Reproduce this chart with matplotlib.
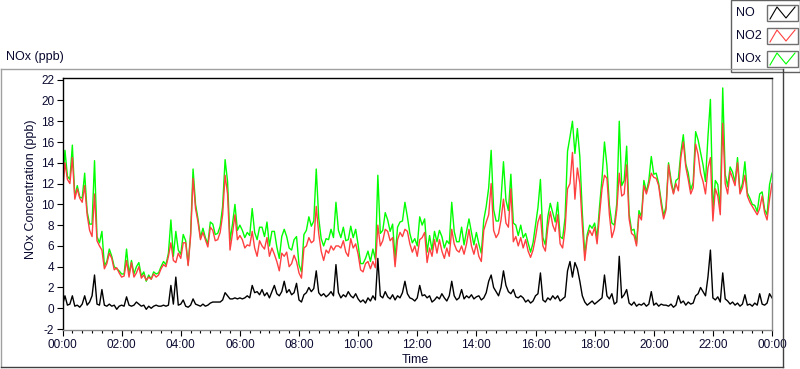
import numpy as np
import matplotlib
matplotlib.use("Agg")
import matplotlib.pyplot as plt
from matplotlib.patches import Rectangle
from matplotlib.lines import Line2D
from matplotlib.ticker import FixedLocator

plt.rcParams['font.family'] = ['Liberation Sans', 'DejaVu Sans']

# ==========================================
# DADOS (leitura do gráfico, uma amostra a cada 5 min)
# ==========================================
minutos = np.arange(0, 1441, 5)

no2 = [
    11.0, 14.0, 12.4, 12.0, 14.5, 10.5, 11.5, 10.6, 10.2, 11.8,
    9.0, 7.5, 6.9, 11.0, 6.5, 6.0, 5.6, 3.8, 4.3, 5.3,
    4.8, 3.7, 3.9, 3.4, 3.0, 3.1, 4.6, 3.0, 4.4, 3.0,
    3.4, 4.0, 2.9, 3.2, 2.7, 3.0, 2.8, 3.3, 3.0, 3.2,
    3.8, 4.2, 4.0, 5.0, 6.3, 4.6, 4.4, 5.3, 4.8, 6.3,
    6.3, 4.1, 6.9, 12.5, 9.6, 8.3, 6.6, 7.3, 6.6, 5.9,
    7.8, 7.5, 6.5, 6.6, 7.3, 9.0, 12.8, 11.0, 5.6, 7.2,
    9.0, 6.6, 7.0, 6.6, 5.8, 6.1, 6.0, 7.4, 5.8, 5.0,
    6.5, 6.0, 5.7, 6.8, 5.0, 5.8, 5.2, 4.5, 3.6, 5.3,
    5.0, 5.4, 4.0, 4.3, 5.1, 4.5, 3.4, 2.9, 5.8,
    6.0, 6.8, 6.3, 6.5, 9.8, 7.2, 5.5, 4.6, 5.6, 5.3,
    6.0, 5.6, 6.0, 6.0, 5.8, 6.5, 5.4, 5.0, 6.7, 5.8,
    6.2, 5.2, 3.7, 3.5, 4.3, 4.5, 3.8, 4.5, 3.9, 8.0,
    6.0, 6.5, 7.6, 7.4, 6.5, 6.8, 4.0, 6.6, 7.3, 6.9,
    7.6, 7.4, 6.2, 5.4, 6.0, 5.0, 6.6, 6.8, 7.3,
    4.4, 5.8, 5.0, 6.6, 5.3, 6.6, 5.5, 4.8, 5.8, 5.0,
    7.6, 6.2, 5.6, 5.4, 6.0, 5.2, 6.2, 7.6, 6.0, 5.2,
    6.2, 5.0, 4.5, 7.5, 8.3, 9.0, 12.0, 7.5, 6.8, 7.2,
    8.5, 10.5, 8.2, 7.8, 11.5, 6.4, 6.9, 6.0, 6.8, 5.8,
    6.6, 5.5, 4.9, 5.6, 6.8, 8.3, 9.0, 6.0, 5.5,
    7.8, 9.3, 8.0, 7.4, 9.0, 6.2, 5.8, 7.6, 11.5, 12.0,
    15.0, 10.5, 13.5, 12.0, 8.0, 4.6, 6.8, 7.5, 7.0, 7.8,
    6.2, 9.0, 11.5, 12.8, 12.5, 9.0, 6.8, 7.6, 9.5, 13.0,
    10.8, 11.0, 13.8, 8.6, 7.2, 7.0, 6.0, 9.0, 8.5, 11.8,
    11.0, 11.9, 13.0, 12.6, 12.5, 11.8, 10.0, 8.6,
    9.5, 13.8, 12.0, 11.0, 12.0, 11.3, 14.5, 16.0, 13.6, 12.4,
    11.0, 11.6, 15.8, 14.8, 13.0, 12.2, 11.0, 13.5, 14.5, 8.4,
    11.5, 10.8, 9.0, 17.8, 12.0, 11.0, 13.2, 12.5, 11.8, 14.0,
    11.0, 11.6, 12.8, 10.8, 10.2, 9.8, 9.4, 9.0, 9.6, 10.8,
    9.2, 8.5, 10.5, 12.0,
]

no = [
    0.3, 1.2, 0.3, 0.4, 1.2, 0.2, 0.3, 0.1, 0.4, 1.2,
    0.3, 0.6, 1.2, 3.2, 0.4, 0.3, 1.8, 0.3, 0.2, 0.4,
    0.2, 0.3, -0.1, 0.2, 0.3, 0.2, 1.1, 0.3, 0.2, 0.3,
    0.6, 0.4, 0.2, 0.3, -0.1, 0.2, 0.0, 0.2, 0.3, 0.2,
    0.2, 0.3, 0.2, 0.3, 2.2, 0.4, 3.0, 0.3, 0.4, 0.8,
    0.2, 0.1, 0.3, 0.9, 0.4, 0.3, 0.2, 0.4, 0.2, 0.3,
    0.5, 0.6, 0.6, 0.6, 0.6, 0.8, 1.5, 1.2, 0.9, 0.9,
    1.0, 0.9, 1.0, 0.9, 1.0, 1.2, 1.0, 2.2, 1.5, 1.6,
    1.3, 1.8, 1.2, 1.5, 1.0, 1.6, 2.2, 1.4, 1.2, 1.6,
    2.6, 1.5, 1.8, 1.3, 1.5, 2.4, 0.8, 0.6, 1.3,
    1.5, 2.0, 1.6, 1.9, 3.6, 1.5, 1.2, 1.4, 1.1, 1.3,
    1.6, 1.2, 4.2, 1.5, 1.0, 1.3, 1.1, 1.6, 1.2, 1.0,
    1.4, 0.9, 0.6, 0.8, 0.5, 1.0, 0.7, 1.2, 0.8, 4.8,
    1.2, 1.0, 1.6, 1.1, 0.9, 1.3, 0.8, 1.2, 1.0, 1.5,
    2.6, 1.4, 1.0, 0.9, 0.7, 1.0, 2.2, 1.2, 1.3,
    1.0, 1.2, 0.6, 0.8, 1.1, 0.9, 1.4, 1.0, 0.7, 1.2,
    2.6, 1.2, 0.8, 1.0, 1.8, 0.9, 1.2, 1.0, 1.3, 0.9,
    1.1, 1.2, 0.8, 1.0, 1.5, 2.6, 3.2, 2.0, 1.6, 1.2,
    2.0, 3.6, 2.2, 1.6, 1.4, 1.8, 1.1, 1.0, 1.2, 1.0,
    0.6, 0.8, 0.5, 0.7, 1.2, 1.4, 3.4, 0.8, 0.6,
    1.0, 0.8, 1.2, 0.9, 1.2, 0.7, 0.9, 1.1, 3.6, 4.5,
    3.0, 4.4, 3.8, 2.6, 1.2, 0.6, 0.3, 0.5, 0.7, 0.4,
    0.6, 0.8, 1.0, 3.2, 1.2, 0.9, 1.4, 0.4, 0.6, 5.0,
    1.0, 1.3, 1.8, 0.5, 0.3, 0.6, 0.2, 0.4, 0.3, 0.5,
    0.2, 0.4, 1.6, 0.3, 0.5, 0.2, 0.4, 0.3,
    0.3, 0.2, 0.4, 0.1, 0.3, 1.2, 0.5, 0.7, 0.3, 0.6,
    0.4, 0.5, 1.2, 1.4, 2.0, 1.6, 1.2, 3.0, 5.6, 1.0,
    0.8, 1.1, 0.6, 3.4, 0.9, 0.7, 0.4, 0.6, 0.3, 0.5,
    0.2, 0.4, 1.3, 0.3, 0.4, 0.2, 0.5, 0.3, 1.4, 0.4,
    0.3, 0.5, 1.4, 1.0,
]

nox = [
    11.3, 15.2, 12.7, 12.4, 15.7, 10.7, 11.8, 10.7, 10.6, 13.0,
    9.3, 8.1, 8.1, 14.2, 6.9, 6.3, 7.4, 4.1, 4.5, 5.7,
    5.0, 4.0, 3.8, 3.6, 3.3, 3.3, 5.7, 3.3, 4.6, 3.3,
    4.0, 4.4, 3.1, 3.5, 2.6, 3.2, 2.8, 3.5, 3.3, 3.4,
    4.0, 4.5, 4.2, 5.3, 8.5, 5.0, 7.4, 5.6, 5.2, 7.1,
    6.5, 4.2, 7.2, 13.4, 10.0, 8.6, 6.8, 7.7, 6.8, 6.2,
    8.3, 8.1, 7.1, 7.2, 7.9, 9.8, 14.3, 12.2, 6.5, 8.1,
    10.0, 7.5, 8.0, 7.5, 6.8, 7.3, 7.0, 9.6, 7.3, 6.6,
    7.8, 7.8, 6.9, 8.3, 6.0, 7.4, 7.4, 5.9, 4.8, 6.9,
    7.6, 6.9, 5.8, 5.6, 6.6, 6.9, 4.2, 3.5, 7.1,
    7.5, 8.8, 7.9, 8.4, 13.4, 8.7, 6.7, 6.0, 6.7, 6.6,
    7.6, 6.8, 10.2, 7.5, 6.8, 7.8, 6.5, 6.6, 7.9, 6.8,
    7.6, 6.1, 4.3, 4.3, 4.8, 5.5, 4.5, 5.7, 4.7, 12.8,
    7.2, 7.5, 9.2, 8.5, 7.4, 8.1, 4.8, 7.8, 8.3, 8.4,
    10.2, 8.8, 7.2, 6.3, 6.7, 6.0, 8.8, 8.0, 8.6,
    5.4, 7.0, 5.6, 7.4, 6.4, 7.5, 6.9, 5.8, 6.5, 6.2,
    10.2, 7.4, 6.4, 6.4, 7.8, 6.1, 7.4, 8.6, 7.3, 6.1,
    7.3, 6.2, 5.3, 8.5, 9.8, 11.6, 15.2, 9.5, 8.4, 8.4,
    10.5, 14.1, 10.4, 9.4, 12.9, 8.2, 8.0, 7.0, 8.0, 6.8,
    7.2, 6.3, 5.4, 6.3, 8.0, 9.7, 12.4, 6.8, 6.1,
    8.8, 10.1, 9.2, 8.3, 10.2, 6.9, 6.7, 8.7, 15.1, 16.5,
    18.0, 14.9, 17.3, 14.6, 9.2, 5.2, 7.1, 8.0, 7.7, 8.2,
    6.8, 9.8, 12.5, 16.0, 13.7, 9.9, 8.2, 8.0, 10.1, 18.0,
    11.8, 12.3, 15.6, 9.1, 7.5, 7.6, 6.2, 9.4, 8.8, 12.3,
    11.2, 12.3, 14.6, 12.9, 13.0, 12.0, 10.4, 8.9,
    9.8, 14.0, 12.4, 11.1, 12.3, 12.5, 15.0, 16.7, 13.9, 13.0,
    11.4, 12.1, 17.0, 16.2, 15.0, 13.8, 12.2, 16.5, 20.1, 9.4,
    12.3, 11.9, 9.6, 21.2, 12.9, 11.7, 13.6, 13.1, 12.1, 14.5,
    11.2, 12.0, 14.1, 11.1, 10.6, 10.0, 9.9, 9.3, 11.0, 11.2,
    9.5, 9.0, 11.9, 13.0,
]

x_ticks = np.arange(0, 1441, 120)
x_labels = ["00:00", "02:00", "04:00", "06:00", "08:00", "10:00", "12:00",
            "14:00", "16:00", "18:00", "20:00", "22:00", "00:00"]
y_ticks = np.arange(-2, 23, 2)

series = [("NOx", nox, "#00ff00"), ("NO2", no2, "#ff4040"), ("NO", no, "black")]

# ==========================================
# FIGURA
# ==========================================
fig = plt.figure(figsize=(8.0, 3.69), dpi=100)
W, H = 800, 369


def fx(px):
    return px / W


def fy(py):
    return 1 - py / H


# moldura exterior do painel
fig.add_artist(Line2D([fx(1), fx(783)], [fy(69), fy(69)], color="#a0a0a0", lw=1))
fig.add_artist(Line2D([fx(1), fx(1)], [fy(69), fy(367)], color="#a0a0a0", lw=1))
fig.add_artist(Line2D([fx(1), fx(783)], [fy(367), fy(367)], color="#404040", lw=1))
fig.add_artist(Line2D([fx(783), fx(783)], [fy(69), fy(367)], color="#404040", lw=1))

ax = fig.add_axes([fx(62.5), fy(330.3), fx(772) - fx(62.5), fy(78.3) - fy(330.3)])

for nome, vals, cor in series:
    ax.plot(minutos, vals, color=cor, lw=1.0, label=nome)

ax.set_xlim(0, 1440)
ax.set_ylim(-2.12, 22.13)

ax.xaxis.set_major_locator(FixedLocator(x_ticks))
ax.xaxis.set_minor_locator(FixedLocator(np.arange(0, 1441, 20)))
ax.set_xticklabels(x_labels)
ax.set_yticks(y_ticks)
ax.set_yticklabels([str(v) for v in y_ticks])

lab_cor = "#0a0a30"
ax.tick_params(axis="both", which="major", direction="out", length=4, width=0.8,
               color="black", labelsize=8.5, labelcolor=lab_cor, pad=2)
ax.tick_params(axis="x", which="minor", direction="out", length=2.5, width=0.8, color="black")

for s in ("top", "left"):
    ax.spines[s].set_color("black")
for s in ("bottom", "right"):
    ax.spines[s].set_color("#8a8a8a")
for s in ax.spines.values():
    s.set_linewidth(1.0)

fig.text(fx(31), fy(189), "NOx Concentration (ppb)", rotation=90, ha="center", va="center",
         fontsize=9, color=lab_cor)
fig.text(fx(415), fy(360), "Time", ha="center", va="center", fontsize=9, color=lab_cor)
fig.text(fx(6), fy(57), "NOx (ppb)", ha="left", va="center", fontsize=9, color=lab_cor)

# legenda ao estilo LabVIEW
fig.add_artist(Rectangle((fx(730.5), fy(72)), fx(800) - fx(730.5), fy(0) - fy(72),
                         transform=fig.transFigure, fill=True, facecolor="white",
                         edgecolor="#606060", lw=1))
legenda = [("NO", "black", 13), ("NO2", "#ff4040", 36), ("NOx", "#00ff00", 59)]
for nome, cor, yc in legenda:
    fig.text(fx(736), fy(yc), nome, ha="left", va="center", fontsize=9, color=lab_cor)
    fig.add_artist(Rectangle((fx(767), fy(yc + 8)), fx(31), fy(0) - fy(16),
                             transform=fig.transFigure, fill=False,
                             edgecolor="#707070", lw=1))
    zx = [fx(770), fx(777), fx(786), fx(795)]
    zy = [fy(yc + 6), fy(yc - 6), fy(yc + 5), fy(yc - 6)]
    fig.add_artist(Line2D(zx, zy, color=cor, lw=0.8))

fig.savefig("out.png", dpi=100)
